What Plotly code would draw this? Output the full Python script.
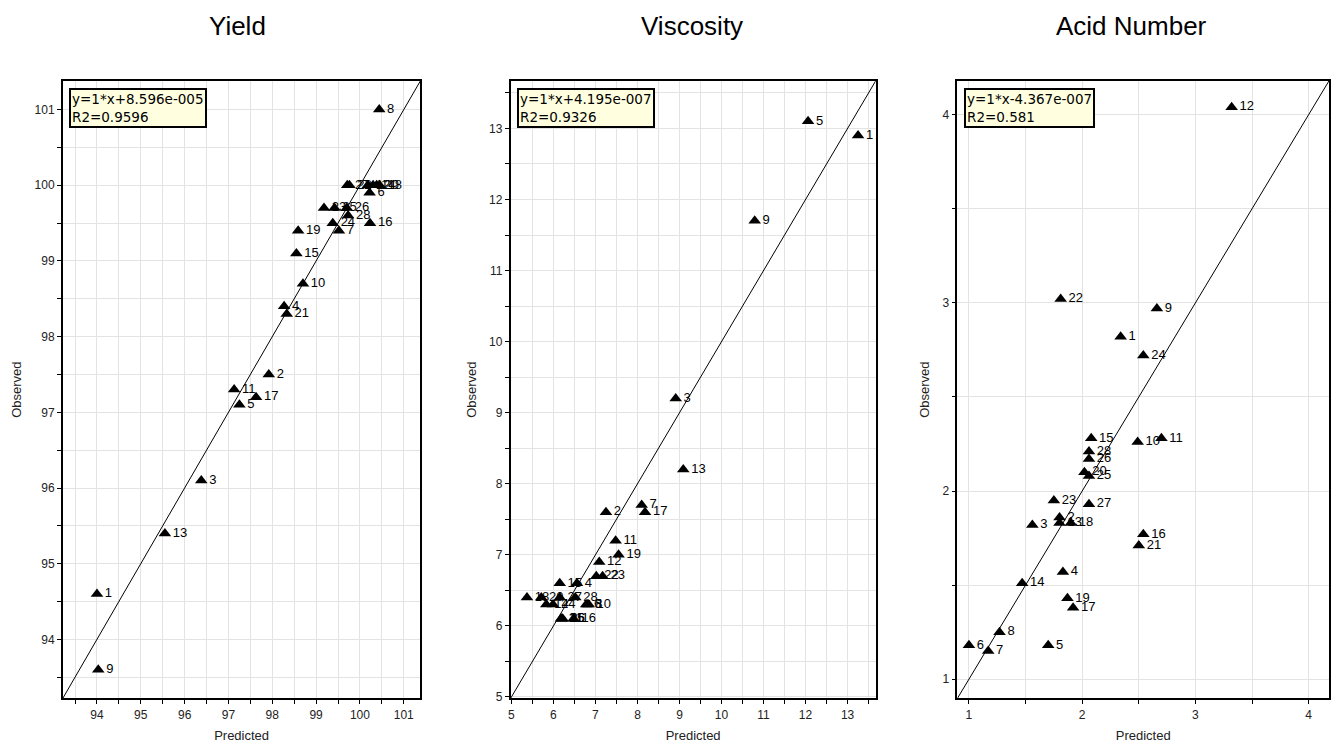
import plotly.graph_objects as go

# ---------------- data ----------------
yield_pred = [94.0, 97.92, 96.38, 98.27, 97.25, 100.22, 99.52, 100.44, 94.03, 98.7,
              97.13, 100.18, 95.55, 100.3, 98.55, 100.23, 97.63, 100.45, 98.59, 100.38,
              98.33, 99.76, 99.18, 99.38, 99.42, 99.7, 99.71, 99.73]
yield_obs = [94.6, 97.5, 96.1, 98.4, 97.1, 99.9, 99.4, 101.0, 93.6, 98.7,
             97.3, 100.0, 95.4, 100.0, 99.1, 99.5, 97.2, 100.0, 99.4, 100.0,
             98.3, 100.0, 99.7, 99.5, 99.7, 99.7, 100.0, 99.6]

visc_pred = [13.25, 7.25, 8.91, 6.56, 12.06, 6.78, 8.1, 6.81, 10.79, 6.84,
             7.48, 7.09, 9.09, 5.83, 6.15, 6.48, 8.18, 5.37, 7.55, 5.71,
             6.18, 7.02, 7.17, 5.99, 6.2, 6.22, 6.15, 6.52]
visc_obs = [12.9, 7.6, 9.2, 6.6, 13.1, 6.3, 7.7, 6.3, 11.7, 6.3,
            7.2, 6.9, 8.2, 6.3, 6.6, 6.1, 7.6, 6.4, 7.0, 6.4,
            6.1, 6.7, 6.7, 6.3, 6.1, 6.1, 6.4, 6.4]

acid_pred = [2.34, 1.8, 1.56, 1.83, 1.7, 1.0, 1.17, 1.27, 2.66, 2.49,
             2.7, 3.32, 1.8, 1.47, 2.08, 2.54, 1.92, 1.9, 1.87, 2.02,
             2.5, 1.81, 1.75, 2.54, 2.06, 2.06, 2.06, 2.06]
acid_obs = [2.82, 1.86, 1.82, 1.57, 1.18, 1.18, 1.15, 1.25, 2.97, 2.26,
            2.28, 4.04, 1.83, 1.51, 2.28, 1.77, 1.38, 1.83, 1.43, 2.1,
            1.71, 3.02, 1.95, 2.72, 2.08, 2.17, 1.93, 2.21]

run_labels = [str(i) for i in range(1, 29)]

titles = ["Yield", "Viscosity", "Acid Number"]
fit_texts = ["y=1*x+8.596e-005<br>R2=0.9596",
             "y=1*x+4.195e-007<br>R2=0.9326",
             "y=1*x-4.367e-007<br>R2=0.581"]
ranges = [[93.22, 101.38], [4.98, 13.67], [0.898, 4.18]]
tick_vals = [[94, 95, 96, 97, 98, 99, 100, 101],
             [5, 6, 7, 8, 9, 10, 11, 12, 13],
             [1, 2, 3, 4]]

# ---------------- layout ----------------
W, H = 1331, 753
x_domains = [[60 / W, 419 / W], [509.5 / W, 876 / W], [958 / W, 1.0]]
y_domain = [(H - 704) / H, (H - 81.5) / H]
title_x = [235 / W, 692 / W, 1133 / W]

fig = go.Figure()
series = [(yield_pred, yield_obs), (visc_pred, visc_obs), (acid_pred, acid_obs)]

font_main = "Liberation Sans, Arial, sans-serif"

for i, (px, py) in enumerate(series):
    xa = "x" if i == 0 else f"x{i+1}"
    ya = "y" if i == 0 else f"y{i+1}"
    lo, hi = ranges[i]
    fig.add_trace(go.Scatter(x=[lo, hi + 1], y=[lo, hi + 1], mode="lines",
                             line=dict(color="black", width=1),
                             xaxis=xa, yaxis=ya, showlegend=False, hoverinfo="skip"))
    fig.add_trace(go.Scatter(x=px, y=py, mode="markers+text", text=run_labels,
                             textposition="middle right",
                             textfont=dict(family=font_main, size=13, color="black"),
                             marker=dict(symbol="triangle-up", size=11, color="black"),
                             xaxis=xa, yaxis=ya, showlegend=False, cliponaxis=False))

    axis_common = dict(
        range=ranges[i], showline=True, mirror=True, linecolor="black", linewidth=1.5,
        showgrid=True, gridcolor="#e3e3e3", gridwidth=1, zeroline=False,
        ticks="outside", ticklen=4, tickcolor="black", tickvals=tick_vals[i],
        tickfont=dict(family=font_main, size=12, color="#222"),
        minor=dict(dtick=0.5, tick0=0, ticks="outside", ticklen=4, tickcolor="black",
                   showgrid=True, gridcolor="#e3e3e3", gridwidth=1),
    )
    xkey = "xaxis" if i == 0 else f"xaxis{i+1}"
    ykey = "yaxis" if i == 0 else f"yaxis{i+1}"
    fig.update_layout(**{
        xkey: dict(axis_common, domain=x_domains[i], anchor=ya,
                   title=dict(text="Predicted", standoff=10,
                              font=dict(family=font_main, size=13, color="#222"))),
        ykey: dict(axis_common, domain=y_domain, anchor=xa,
                   title=dict(text="Observed", standoff=10,
                              font=dict(family=font_main, size=13, color="#222"))),
    })

    # fit box
    fig.add_annotation(xref=f"{xa} domain", yref=f"{ya} domain", x=0.018, y=0.988,
                       xanchor="left", yanchor="top", text=fit_texts[i], showarrow=False,
                       align="left", bgcolor="#ffffe0", bordercolor="black", borderwidth=2,
                       borderpad=1,
                       font=dict(family="DejaVu Sans, sans-serif", size=13.5, color="black"))
    # panel title
    fig.add_annotation(xref="paper", yref="paper", x=title_x[i], y=(H - 26) / H,
                       xanchor="center", yanchor="middle", text=titles[i], showarrow=False,
                       font=dict(family="Liberation Sans Narrow, Arial Narrow, Liberation Sans, Arial",
                                 size=26, color="black"))

fig.update_layout(width=W, height=H, margin=dict(l=0, r=0, t=0, b=0),
                  paper_bgcolor="white", plot_bgcolor="white", showlegend=False)

fig.write_html("out.html")
